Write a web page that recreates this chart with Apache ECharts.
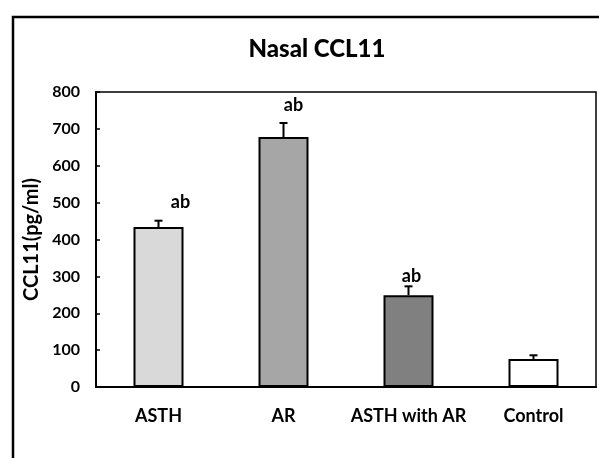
<!DOCTYPE html>
<html>
<head>
<meta charset="utf-8">
<script src="https://cdn.jsdelivr.net/npm/echarts@6/dist/echarts.min.js"></script>
<style>
  html, body { margin: 0; padding: 0; background: #fff; }
  #chart { width: 599px; height: 458px; }
</style>
</head>
<body>
<div id="chart"></div>
<script>
// groups on the x axis
var categories = ['ASTH', 'AR', 'ASTH with AR', 'Control']
// mean CCL11 (pg/ml) and error
var means = [434, 678, 249, 76]
var errors = [17, 38, 24, 10]
// significance letters above bars
var letters = ['ab', 'ab', 'ab', '']
var yTicks = [0, 100, 200, 300, 400, 500, 600, 700, 800]

var barColors = ['#d9d9d9', '#a6a6a6', '#808080', '#ffffff']
// pixel nudges for the letters (x, y)
var letterOffsets = [[22, -19], [10, -18], [3, -10], [0, 0]]

var font = 'Lato, "Open Sans", sans-serif'

var chart = echarts.init(document.getElementById('chart'))

chart.setOption({
  animation: false,
  backgroundColor: '#fff',
  title: {
    text: 'Nasal CCL11',
    left: 312,
    top: 32,
    textAlign: 'center',
    textStyle: { fontFamily: font, fontWeight: 900, fontSize: 24, color: '#000' }
  },
  // outer frame of the figure
  graphic: [{
    type: 'rect',
    shape: { x: 13, y: 17, width: 620, height: 480 },
    style: { fill: null, stroke: '#000', lineWidth: 2.5 },
    silent: true
  }],
  grid: {
    left: 96,
    right: 3,
    top: 92,
    bottom: 71,
    show: true,
    borderColor: '#000',
    borderWidth: 1.5
  },
  xAxis: {
    type: 'category',
    data: categories,
    axisLine: { lineStyle: { color: '#000', width: 2 } },
    axisTick: { show: false },
    axisLabel: {
      interval: 0,
      margin: 20,
      color: '#000',
      fontFamily: font,
      fontWeight: 'bold',
      fontSize: 18
    }
  },
  yAxis: {
    type: 'value',
    min: yTicks[0],
    max: yTicks[yTicks.length - 1],
    interval: 100,
    name: 'CCL11(pg/ml)',
    nameLocation: 'middle',
    nameRotate: 90,
    nameGap: 52,
    nameTextStyle: { fontFamily: font, fontWeight: 'bold', fontSize: 20, color: '#000' },
    axisLine: { show: true, lineStyle: { color: '#000', width: 2 } },
    axisTick: { show: true, inside: true, length: 4, lineStyle: { color: '#000', width: 1.5 } },
    splitLine: { show: false },
    axisLabel: {
      margin: 16,
      color: '#000',
      fontFamily: font,
      fontWeight: 'bold',
      fontSize: 16
    }
  },
  series: [
    {
      type: 'bar',
      barWidth: '40%',
      data: means.map(function (v, i) {
        return {
          value: v,
          itemStyle: { color: barColors[i], borderColor: '#000', borderWidth: 2 }
        }
      }),
      z: 2
    },
    {
      // error bars + letters
      type: 'custom',
      data: means.map(function (v, i) { return [i, v, errors[i]] }),
      z: 3,
      renderItem: function (params, api) {
        var i = api.value(0)
        var base = api.coord([i, api.value(1)])
        var top = api.coord([i, api.value(1) + api.value(2)])
        var cap = 4
        var children = [
          { type: 'line', shape: { x1: base[0], y1: base[1], x2: top[0], y2: top[1] },
            style: { stroke: '#000', lineWidth: 2 } },
          { type: 'line', shape: { x1: top[0] - cap, y1: top[1], x2: top[0] + cap, y2: top[1] },
            style: { stroke: '#000', lineWidth: 2 } }
        ]
        var label = letters[params.dataIndex]
        if (label) {
          var off = letterOffsets[params.dataIndex]
          children.push({
            type: 'text',
            x: top[0] + off[0],
            y: top[1] + off[1],
            style: {
              text: label,
              align: 'center',
              verticalAlign: 'middle',
              fill: '#000',
              font: 'bold 18px ' + font
            }
          })
        }
        return { type: 'group', children: children }
      }
    }
  ]
})
</script>
</body>
</html>
